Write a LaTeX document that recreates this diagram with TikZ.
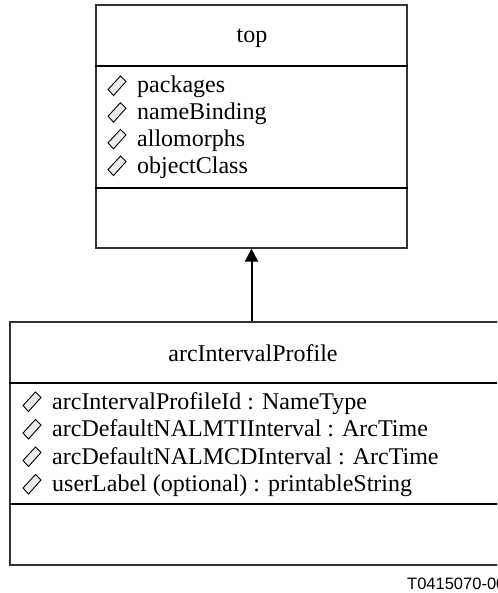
\documentclass[tikz,border=0pt]{standalone}
\usepackage{fontspec}
\setmainfont{Liberation Serif}
\newfontfamily\labelfont{Liberation Sans}
\usetikzlibrary{arrows.meta}

\tikzset{
  classbox/.style={draw=black!80, line width=1.2pt, inner sep=0pt},
  sepline/.style={line width=2pt},
  classname/.style={anchor=base, inner sep=0pt, font=\fontsize{24}{27}\selectfont},
  attr/.style={anchor=base west, inner sep=0pt, font=\fontsize{24}{27}\selectfont},
  attrmark/.pic={\filldraw[fill=black!8, line width=0.9pt, line join=miter]
    (-9,3.5) -- (3.5,-10) -- (9,-4.5) -- (-3.5,9.5) -- cycle;},
  inherit/.style={line width=2pt, -{Triangle[length=13pt,width=13pt]}}
}

\begin{document}
\begin{tikzpicture}[x=1pt,y=-1pt]
\useasboundingbox (0,0) rectangle (497,593);
\clip (0,0) rectangle (497,593);

% superclass
\node[classbox, minimum width=311pt, minimum height=243pt] (top) at (251.5,126.5) {};
\draw[sepline] (top.west |- 0,66) -- (top.east |- 0,66);
\draw[sepline] (top.west |- 0,188) -- (top.east |- 0,188);
\node[classname] (topname) at (252,43) {top};
\foreach \txt [count=\i] in {packages,nameBinding,allomorphs,objectClass} {
  \node[attr] (topattr\i) at (137,{93+26.7*(\i-1)}) {\txt};
  \pic at (117,{86+26.7*(\i-1)}) {attrmark};
}

% subclass
\node[classbox, minimum width=490pt, minimum height=243pt] (arcprofile) at (255,443.5) {};
\draw[sepline] (arcprofile.west |- 0,383) -- (arcprofile.east |- 0,383);
\draw[sepline] (arcprofile.west |- 0,504) -- (arcprofile.east |- 0,504);
\node[classname] (arcname) at (253,361) {arcIntervalProfile};
\foreach \txt [count=\i] in {arcIntervalProfileId : NameType,
    arcDefaultNALMTIInterval : ArcTime,
    arcDefaultNALMCDInterval : ArcTime,
    userLabel (optional) : printableString} {
  \node[attr] (arcattr\i) at (52,{409+27.5*(\i-1)}) {\txt};
  \pic at (32,{402+27.5*(\i-1)}) {attrmark};
}

% inheritance
\draw[inherit] (top.south |- arcprofile.north) -- (top.south);

\node[anchor=base west, inner sep=0pt, font=\labelfont\fontsize{16.5}{18}\selectfont] (figid) at (407,589) {T0415070-00};
\end{tikzpicture}
\end{document}
